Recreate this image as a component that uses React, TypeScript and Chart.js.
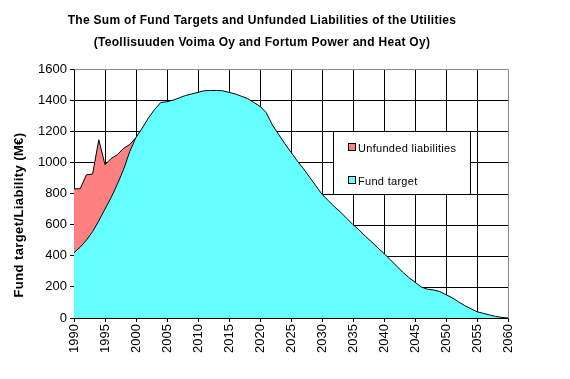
import React, { useEffect, useRef } from "react";
import { Chart, registerables } from "chart.js";

Chart.register(...registerables);

const titleLines = [
  "The Sum of Fund Targets and Unfunded Liabilities of the Utilities",
  "(Teollisuuden Voima Oy and Fortum Power and Heat Oy)",
];
const yAxisTitle = "Fund target/Liability (M€)";

const years = [
  1990, 1991, 1992, 1993, 1994, 1995, 1996, 1997, 1998, 1999,
  2000, 2001, 2002, 2003, 2004, 2005, 2006, 2007, 2008, 2009,
  2010, 2011, 2012, 2013, 2014, 2015, 2016, 2017, 2018, 2019,
  2020, 2021, 2022, 2023, 2024, 2025, 2026, 2027, 2028, 2029,
  2030, 2031, 2032, 2033, 2034, 2035, 2036, 2037, 2038, 2039,
  2040, 2041, 2042, 2043, 2044, 2045, 2046, 2047, 2048, 2049,
  2050, 2051, 2052, 2053, 2054, 2055, 2056, 2057, 2058, 2059, 2060,
];

const fundTarget = [
  420, 455, 500, 555, 625, 700, 775, 860, 955, 1070,
  1160, 1220, 1285, 1340, 1385, 1390, 1400, 1415, 1430, 1440,
  1450, 1460, 1462, 1462, 1460, 1450, 1440, 1425, 1410, 1385,
  1360, 1320, 1240, 1180, 1120, 1065, 1010, 960, 905, 850,
  795, 755, 715, 680, 640, 600, 565, 525, 490, 450,
  415, 375, 335, 295, 260, 230, 200, 185, 180, 170,
  150, 130, 105, 80, 60, 40, 30, 20, 10, 4, 0,
];

// Unfunded liabilities, 1990..2000 (stacked on top of fund target)
const unfundedYears = [1990, 1991, 1992, 1993, 1994, 1995, 1996, 1997, 1998, 1999, 2000];
const unfunded = [410, 375, 420, 370, 520, 285, 250, 190, 135, 45, 0];

const legendLabels = ["Unfunded liabilities", "Fund target"];
const RED = "#FF8080";
const CYAN = "#66FFFF";
const FONT = "'Liberation Sans', Arial, sans-serif";

const gridPlugin = {
  id: "gridUnder",
  beforeDatasetsDraw(chart: any) {
    const ctx = chart.ctx;
    const area = chart.chartArea;
    const xs = chart.scales.x;
    const ys = chart.scales.y;
    ctx.save();
    ctx.lineWidth = 1;
    ctx.strokeStyle = "#000";
    ctx.beginPath();
    for (const t of xs.ticks) {
      if (t.value === xs.min || t.value === xs.max) continue;
      const px = Math.round(xs.getPixelForValue(t.value)) + 0.5;
      ctx.moveTo(px, area.top);
      ctx.lineTo(px, area.bottom);
    }
    for (const t of ys.ticks) {
      if (t.value === ys.min || t.value === ys.max) continue;
      const py = Math.round(ys.getPixelForValue(t.value)) + 0.5;
      ctx.moveTo(area.left, py);
      ctx.lineTo(area.right, py);
    }
    ctx.stroke();
    ctx.restore();
  },
};

const overlayPlugin = {
  id: "overlay",
  afterDraw(chart: any) {
    const ctx = chart.ctx;
    const area = chart.chartArea;
    ctx.save();
    // frame top/right gray
    ctx.strokeStyle = "#8a8a8a";
    ctx.lineWidth = 1;
    ctx.beginPath();
    ctx.moveTo(Math.round(area.left) + 0.5, Math.round(area.top) + 0.5);
    ctx.lineTo(Math.round(area.right) + 0.5, Math.round(area.top) + 0.5);
    ctx.lineTo(Math.round(area.right) + 0.5, Math.round(area.bottom) + 0.5);
    ctx.stroke();

    // Title
    ctx.fillStyle = "#000";
    ctx.font = "bold 12px " + FONT;
    (ctx as any).letterSpacing = "0.3px";
    ctx.textAlign = "center";
    ctx.textBaseline = "alphabetic";
    ctx.fillText(titleLines[0], 262, 24);
    ctx.fillText(titleLines[1], 262, 46);

    // Y axis title
    ctx.save();
    ctx.translate(23, 215);
    ctx.rotate(-Math.PI / 2);
    ctx.font = "bold 13px " + FONT;
    (ctx as any).letterSpacing = "0.4px";
    ctx.textAlign = "center";
    ctx.fillText(yAxisTitle, 0, 0);
    ctx.restore();

    // Legend box
    (ctx as any).letterSpacing = "0.3px";
    const lx = 333.5, ly = 131.5, lw = 137, lh = 63;
    ctx.fillStyle = "#fff";
    ctx.fillRect(lx, ly, lw, lh);
    ctx.strokeStyle = "#000";
    ctx.strokeRect(lx, ly, lw, lh);
    const colors = [RED, CYAN];
    const rowsY = [143, 176];
    ctx.font = "11px " + FONT;
    ctx.textAlign = "left";
    for (let i = 0; i < 2; i++) {
      ctx.fillStyle = colors[i];
      ctx.fillRect(348.5, rowsY[i] + 0.5, 7, 7);
      ctx.strokeStyle = "#000";
      ctx.strokeRect(348.5, rowsY[i] + 0.5, 7, 7);
      ctx.fillStyle = "#000";
      ctx.fillText(legendLabels[i], 358, rowsY[i] + 8.5);
    }
    ctx.restore();
  },
};

export default function App() {
  const ref = useRef<HTMLCanvasElement | null>(null);
  useEffect(() => {
    document.body.style.margin = "0";
    const ctx = ref.current!.getContext("2d")!;
    const chart = new Chart(ctx, {
      type: "line",
      data: {
        datasets: [
          {
            label: legendLabels[1],
            data: years.map((x, i) => ({ x, y: fundTarget[i] })),
            backgroundColor: CYAN,
            borderColor: "#000",
            borderWidth: 1,
            fill: "origin",
            pointRadius: 0,
            tension: 0,
          },
          {
            label: legendLabels[0],
            data: unfundedYears.map((x, i) => ({ x, y: unfunded[i] })),
            backgroundColor: RED,
            borderColor: "#000",
            borderWidth: 1,
            fill: "-1",
            pointRadius: 0,
            tension: 0,
          },
        ],
      },
      options: {
        animation: false,
        responsive: false,
        devicePixelRatio: 1,
        layout: { padding: { left: 0, top: 69, right: 62, bottom: 0 } },
        plugins: {
          legend: { display: false },
          title: { display: false },
          tooltip: { enabled: false },
          filler: { propagate: false },
        },
        scales: {
          x: {
            type: "linear",
            min: 1990,
            max: 2060,
            ticks: {
              stepSize: 5,
              color: "#000",
              font: { family: FONT, size: 13 },
              maxRotation: 90,
              minRotation: 90,
              padding: 2,
              autoSkip: false,
              callback: (v: any) => String(v),
            },
            grid: {
              drawOnChartArea: false,
              tickLength: 4,
              drawTicks: true,
              tickColor: "#000",
            },
            border: { display: true, color: "#000", width: 1 },
            afterFit: (s: any) => {
              s.height = 61;
            },
          },
          y: {
            stacked: true,
            min: 0,
            max: 1600,
            ticks: {
              stepSize: 200,
              color: "#000",
              font: { family: FONT, size: 13 },
              padding: 3,
              callback: (v: any) => String(v),
            },
            grid: {
              drawOnChartArea: false,
              tickLength: 4,
              drawTicks: true,
              tickColor: "#000",
            },
            border: { display: true, color: "#000", width: 1 },
            afterFit: (s: any) => {
              s.width = 74;
            },
          },
        },
      },
      plugins: [gridPlugin, overlayPlugin],
    });
    return () => chart.destroy();
  }, []);
  return (
    <div style={{ position: "absolute", left: 0, top: 0, width: 570, height: 379, background: "#fff" }}>
      <canvas ref={ref} width={570} height={379} style={{ display: "block" }} />
    </div>
  );
}
